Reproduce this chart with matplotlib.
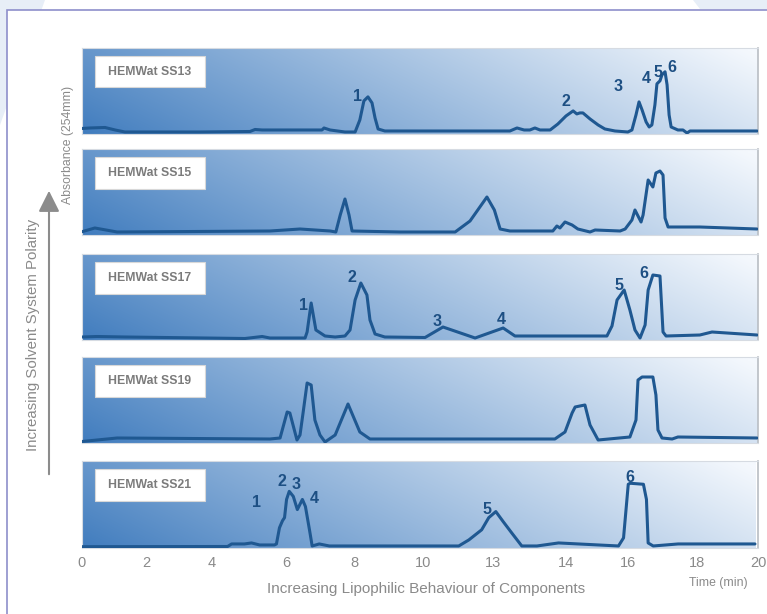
import numpy as np
import matplotlib
matplotlib.use("Agg")
import matplotlib.pyplot as plt
from matplotlib.patches import Polygon, Rectangle, FancyArrowPatch

# ---------------- data (time in min, absorbance in arbitrary units) ----------------
systems = ["HEMWat SS13", "HEMWat SS15", "HEMWat SS17", "HEMWat SS19", "HEMWat SS21"]

t_ss13 = [0, 0.24, 0.68, 0.98, 1.27, 3.49, 4.97, 5.12, 5.33, 7.10, 7.16, 7.34, 7.78, 8.08, 8.22, 8.34,
          8.46, 8.58, 8.67, 8.76, 8.96, 12.66, 12.87, 13.08, 13.25, 13.40, 13.55, 13.85, 14.08, 14.32,
          14.53, 14.64, 14.73, 14.82, 15.03, 15.27, 15.47, 15.77, 16.15, 16.27, 16.39, 16.48, 16.57,
          16.69, 16.78, 16.86, 16.95, 17.01, 17.10, 17.16, 17.25, 17.31, 17.37, 17.43, 17.63, 17.78,
          17.90, 17.99, 19.97]
a_ss13 = [5.5, 6, 6.5, 4, 2, 2, 2.5, 4.5, 4, 4, 6, 4, 2, 2, 14, 33,
          37, 31, 16, 5, 3, 3, 6, 4, 4, 6, 4, 4, 10, 18,
          23, 20, 21, 21, 15, 9, 5, 3, 2, 4, 19, 32, 24,
          12, 7, 9, 29, 50, 53, 59, 62, 49, 19, 7, 4, 4,
          1, 3, 3]

t_ss15 = [0, 0.38, 1.04, 5.56, 6.45, 7.34, 7.51, 7.64, 7.78, 7.90, 7.99, 9.41, 11.04, 11.48, 11.98,
          12.20, 12.37, 12.66, 13.93, 14.05, 14.14, 14.29, 14.50, 14.67, 15.03, 15.18, 15.92, 16.07,
          16.27, 16.36, 16.54, 16.60, 16.75, 16.83, 16.89, 16.98, 17.10, 17.19, 17.25, 17.34, 18.28, 19.97]
a_ss15 = [3.3, 7, 3, 4, 6, 4, 3, 20, 36, 20, 4, 3, 3, 14, 38,
          25, 6, 4, 4, 9, 7, 13, 10, 6, 3, 5, 4, 6,
          15, 25, 13, 20, 55, 51, 48, 62, 64, 60, 17, 8, 8, 6]

t_ss17 = [0, 0.44, 1.27, 4.82, 5.33, 5.56, 6.60, 6.66, 6.78, 6.92, 7.19, 7.49, 7.78, 7.93, 8.08,
          8.25, 8.43, 8.52, 8.67, 8.96, 10.15, 10.68, 11.63, 12.46, 12.81, 15.53, 15.68, 15.83, 16.04,
          16.21, 16.36, 16.51, 16.66, 16.75, 16.89, 17.10, 17.19, 17.28, 18.28, 18.64, 19.97]
a_ss17 = [3, 3.5, 3, 1.5, 3.5, 2, 2, 8, 37, 10, 4, 3, 4, 10, 40,
          57, 45, 20, 6, 3, 2.5, 13, 2, 12, 4, 4, 14, 40, 50,
          30, 10, 2, 15, 50, 65, 64, 8, 4, 5, 8, 5]

t_ss19 = [0, 1.04, 5.56, 5.86, 6.07, 6.15, 6.36, 6.45, 6.54, 6.66, 6.78, 6.89, 7.04, 7.19, 7.49,
          7.87, 8.22, 8.52, 9.41, 13.99, 14.29, 14.50, 14.59, 14.73, 14.88, 15.03, 15.27, 16.21,
          16.39, 16.45, 16.57, 16.89, 16.98, 17.04, 17.16, 17.46, 17.63, 19.97]
a_ss19 = [1.5, 5, 4, 5, 31, 30, 3, 8, 30, 60, 58, 23, 8, 1, 8,
          39, 11, 4, 4, 4, 11, 30, 36, 37, 38, 18, 3, 6,
          23, 63, 66, 66, 48, 13, 5, 4, 6, 5]

t_ss21 = [0, 4.32, 4.44, 4.82, 5.03, 5.27, 5.71, 5.77, 5.86, 5.95, 6.01, 6.07, 6.15, 6.27, 6.39,
          6.54, 6.63, 6.75, 6.83, 7.04, 7.34, 9.41, 11.18, 11.48, 11.86, 12.07, 12.28, 12.50, 12.75,
          13.05, 13.5, 14.14, 15.92, 16.07, 16.21, 16.27, 16.66, 16.75, 16.80, 16.95, 17.69, 19.97]
a_ss21 = [1.3, 1.5, 4, 4, 5, 3, 3, 4, 20, 27, 30, 48, 56, 51, 38,
          48, 41, 18, 2, 4, 2, 2, 2, 8, 18, 30, 36, 26, 15,
          2, 2, 5, 2, 10, 63, 64, 63, 48, 5, 2, 4, 4]

traces_t = [t_ss13, t_ss15, t_ss17, t_ss19, t_ss21]
traces_a = [a_ss13, a_ss15, a_ss17, a_ss19, a_ss21]

# peak labels: (text, time, absorbance)
peak_labels = [
    [("1", 8.14, 37), ("2", 14.32, 32), ("3", 15.86, 47), ("4", 16.69, 55), ("5", 17.04, 61), ("6", 17.46, 66)],
    [],
    [("1", 6.54, 35), ("2", 7.99, 62), ("3", 10.50, 18), ("4", 12.40, 21), ("5", 15.89, 54), ("6", 16.63, 66)],
    [],
    [("1", 5.18, 45), ("2", 5.92, 66), ("3", 6.36, 63), ("4", 6.89, 49), ("5", 12.01, 38), ("6", 16.27, 70)],
]

tick_pos = [0, 1.92, 3.85, 6.07, 8.08, 10.12, 12.19, 14.35, 16.21, 18.25, 20.06]
tick_lab = ["0", "2", "4", "6", "8", "10", "13", "14", "16", "18", "20"]

# ---------------- styling ----------------
W, H = 767, 614
plt.rcParams["font.family"] = ["Liberation Sans", "DejaVu Sans"]
GRAY = "#8a8a8a"
LINE = "#1f5891"
NUMC = "#1d4f83"

fig = plt.figure(figsize=(W / 100, H / 100), dpi=100)
fig.patch.set_facecolor("white")

def fx(x): return x / W
def fy(y): return 1 - y / H

# decorative background shapes & frame (figure pixel coords), drawn below the axes
fig.add_artist(Polygon([(fx(0), fy(0)), (fx(45), fy(0)), (fx(0), fy(125))], closed=True,
                       transform=fig.transFigure, facecolor="#e7eef7", edgecolor="none", zorder=-3))
fig.add_artist(Polygon([(fx(693), fy(0)), (fx(767), fy(0)), (fx(767), fy(9)), (fx(700), fy(9))], closed=True,
                       transform=fig.transFigure, facecolor="#e7eef7", edgecolor="none", zorder=-3))
fig.add_artist(Rectangle((fx(7), fy(620)), fx(800 - 7), fy(10) - fy(620), transform=fig.transFigure,
                         facecolor="white", edgecolor="#8e8fcb", linewidth=1.2, zorder=-2))

# gradient image (darker bottom-left, light top-right)
ny, nx = 60, 300
u = np.linspace(0, 1, nx)[None, :]
v = np.linspace(1, 0, ny)[:, None]  # row 0 = top
s = np.clip(0.82 * u + 0.2 * v, 0, 1) ** 0.95
dark = np.array([64, 124, 190]) / 255
light = np.array([244, 248, 253]) / 255
grad = dark[None, None, :] * (1 - s[..., None]) + light[None, None, :] * s[..., None]

panels_px = [(47.7, 134), (149, 235), (254, 340), (357, 443), (461, 548)]
x_left, x_right = 82, 758
YMAX = 86

for i, (top, bot) in enumerate(panels_px):
    ax = fig.add_axes([fx(x_left), fy(bot), fx(x_right - x_left), (bot - top) / H])
    ax.set_xlim(0, 20)
    ax.set_ylim(0, YMAX)
    ax.imshow(grad, extent=[0, 20, 0, YMAX], aspect="auto", zorder=0, interpolation="bilinear")
    ax.plot(traces_t[i], traces_a[i], color=LINE, lw=2.2, solid_joinstyle="round",
            solid_capstyle="round", zorder=3)
    for txt, tt, aa in peak_labels[i]:
        ax.text(tt, aa, txt, color=NUMC, fontsize=11.5, fontweight="bold",
                ha="center", va="center", zorder=4)
    # label box
    ax.add_patch(Rectangle((0.019, 0.54), 0.163, 0.365, transform=ax.transAxes,
                           facecolor="white", edgecolor="#d8d8d8", lw=0.8, zorder=5))
    ax.text(0.1005, 0.722, systems[i], transform=ax.transAxes, ha="center", va="center",
            color="#7b7b7b", fontsize=8.8, fontweight="bold", zorder=6)
    for side in ["left", "top", "bottom"]:
        ax.spines[side].set_color("#d6dbe2")
        ax.spines[side].set_linewidth(0.8)
    ax.spines["right"].set_color("#b9bec4")
    ax.spines["right"].set_linewidth(1.2)
    ax.set_yticks([])
    if i == len(panels_px) - 1:
        ax.set_xticks(tick_pos)
        ax.set_xticklabels(tick_lab, color=GRAY, fontsize=10.5)
        ax.tick_params(axis="x", length=0, pad=6)
    else:
        ax.set_xticks([])

# annotations outside panels
fig.text(fx(426), fy(589), "Increasing Lipophilic Behaviour of Components", ha="center", va="center",
         color=GRAY, fontsize=11)
fig.text(fx(718), fy(583), "Time (min)", ha="center", va="center", color=GRAY, fontsize=8.8)
fig.text(fx(33), fy(335), "Increasing Solvent System Polarity", ha="center", va="center",
         rotation=90, color=GRAY, fontsize=10.8)
fig.text(fx(68), fy(145), "Absorbance (254mm)", ha="center", va="center",
         rotation=90, color=GRAY, fontsize=8.8)
fig.add_artist(FancyArrowPatch((fx(49), fy(477)), (fx(49), fy(188)),
                               transform=fig.transFigure, arrowstyle="-|>,head_length=8,head_width=4",
                               color="#8c8c8c", lw=1.5, mutation_scale=1.6))

fig.savefig("out.png", dpi=100)
